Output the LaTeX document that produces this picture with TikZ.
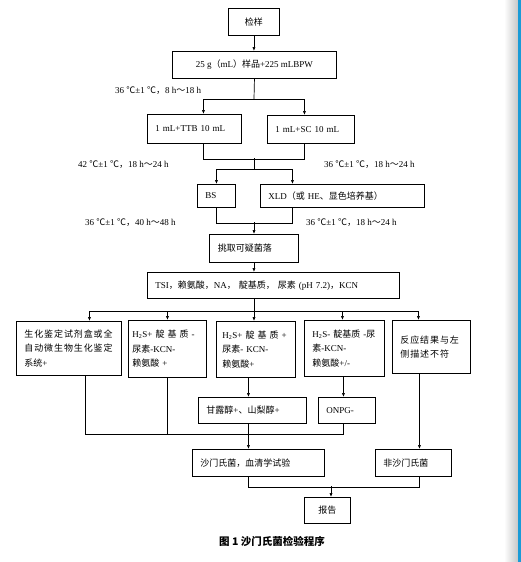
\documentclass[tikz,border=0pt]{standalone}
\usepackage{fontspec}
\setmainfont{Liberation Serif}
\newfontfamily\zhfont{Noto Sans CJK SC}
\newfontfamily\zhwide[LetterSpace=10]{Noto Sans CJK SC}
\usepackage{tikz}
\usetikzlibrary{arrows.meta}
\definecolor{edgeblue}{HTML}{1A9BD7}
\newcommand{\zhs}[1]{{\zhfont #1}}
\newcommand{\zhw}[1]{{\zhwide #1}}
\newcommand{\incub}[3]{#1 \zhs{℃}±1 \zhs{℃，}#2 h\zhs{～}#3 h}

\begin{document}
\begin{tikzpicture}[x=1pt,y=-1pt,>={Latex[length=4pt,width=3.2pt]},
font=\fontsize{9}{14.5}\selectfont,
p/.style={draw,line width=0.9pt,anchor=north west,inner xsep=8pt,inner ysep=0pt},
pl/.style={p,align=left,text width=#1},
lbl/.style={anchor=west,inner sep=0pt},
flow/.style={->,line width=0.7pt},
link/.style={line width=0.7pt}]
\fill[white] (0,0) rectangle (521,562);
\useasboundingbox (0,0) rectangle (521,562);
\shade[left color=white,right color=black!22] (504,0) rectangle (518,562);
\fill[edgeblue] (518,0) rectangle (521,562);
% boxes
\node[p,minimum width=51pt,minimum height=27pt] (sample) at (228,8) {\zhs{检样}};
\node[p,minimum width=164pt,minimum height=27pt] (mix) at (172,51) {25 g\zhs{（}mL\zhs{）样品}+225 mLBPW};
\node[pl=78pt,minimum height=29pt] (ttb) at (147,114) {1 mL+TTB 10 mL};
\node[pl=71pt,minimum height=28pt] (sc) at (267,115) {1 mL+SC 10 mL};
\node[pl=22pt,minimum height=23pt] (bs) at (197,184) {BS};
\node[pl=148pt,minimum height=23pt] (xld) at (260,184) {XLD\zhs{（或} HE\zhs{、显色培养基）}};
\node[pl=72pt,minimum height=28pt,inner xsep=8.5pt] (pick) at (209,234) {\zhs{挑取可疑菌落}};
\node[pl=236pt,minimum height=26pt] (tsi) at (147,272) {TSI\zhs{，赖氨酸，}NA\zhs{，\ 靛基质，\ 尿素} (pH 7.2)\zhs{，}KCN};
\node[pl=89pt,minimum height=54pt] (b1) at (16,321) {\zhw{生化鉴定试剂盒或全}\\\zhw{自动微生物生化鉴定}\\\zhs{系统}+};
\node[pl=70pt,minimum height=57pt,inner xsep=4pt] (b2) at (128,320) {H\textsubscript{2}S+ \zhs{靛 基 质} -\\\zhs{尿素}-KCN-\\\zhs{赖氨酸} +};
\node[pl=67pt,minimum height=56pt,inner xsep=6pt] (b3) at (216,321) {H\textsubscript{2}S+ \zhs{靛 基 质} +\\\zhs{尿素}- KCN-\\\zhs{赖氨酸}+};
\node[pl=64pt,minimum height=56pt] (b4) at (304,320) {H\textsubscript{2}S- \zhs{靛基质} -\zhs{尿}\\\zhs{素}-KCN-\\\zhs{赖氨酸}+/-};
\node[pl=62pt,minimum height=53pt] (b5) at (392,320) {\zhw{反应结果与左}\\\zhw{侧描述不符}};
\node[pl=92pt,minimum height=26pt] (mann) at (198,397) {\zhs{甘露醇}+\zhs{、山梨醇}+};
\node[pl=41pt,minimum height=26pt] (onpg) at (318,397) {ONPG-};
\node[pl=116pt,minimum height=27pt] (salm) at (192,449) {\zhs{沙门氏菌，血清学试验}};
\node[pl=60pt,minimum height=27pt] (nonsalm) at (375,449) {\zhs{非沙门氏菌}};
\node[p,minimum width=46pt,minimum height=26pt] (report) at (304,497) {\zhs{报告}};
\node[font=\zhfont\bfseries\fontsize{10.5}{12}\selectfont] (caption) at (272,541) {图 1 沙门氏菌检验程序};
% incubation labels
\node[lbl] (t1) at (115,91) {\incub{36}{8}{18}};
\node[lbl] (t2) at (78,165) {\incub{42}{18}{24}};
\node[lbl] (t3) at (324,165) {\incub{36}{18}{24}};
\node[lbl] (t4) at (85,223) {\incub{36}{40}{48}};
\node[lbl] (t5) at (306,223) {\incub{36}{18}{24}};
% junctions
\coordinate (j1) at (254,99);
\coordinate (j2) at (254,158);
\coordinate (j3) at (254,169);
\coordinate (j4) at (254,222);
\coordinate (j5) at (254,311);
\coordinate (j7) at (331,486);
% connectors
\draw[flow] (sample.south) -- (sample.south |- mix.north);
\draw[link] (mix.south) -- (j1);
\draw[flow] (j1) -| ([xshift=9pt]ttb.north);
\draw[flow] (j1) -| ([xshift=-6.5pt]sc.north);
\draw[link] ([xshift=9pt]ttb.south) -- ++(0,15) -| ([xshift=-6.5pt]sc.south);
\draw[link] (j2) -- (j3);
\draw[flow] (j3) -| (bs.north);
\draw[flow] (j3) -| ([xshift=-50pt]xld.north);
\draw[link] (bs.south) -- ++(0,15) -| ([xshift=-50pt]xld.south);
\draw[flow] (j4) -- (j4 |- pick.north);
\draw[flow] (pick.south) -- (pick.south |- tsi.north);
\draw[link] (j5 |- tsi.south) -- (j5);
\draw[flow] (j5) -| ([xshift=20.5pt]b1.north);
\draw[flow] (j5) -| (b2.north);
\draw[flow] (j5) -- (j5 |- b3.north);
\draw[flow] (j5) -| ([xshift=-2pt]b4.north);
\draw[flow] (j5) -| ([xshift=-13pt]b5.north);
\draw[link] ([xshift=16.5pt]b1.south) -- ++(0,58) -| ([xshift=-3.5pt]onpg.south);
\draw[link] (b2.south) -- ++(0,56);
\draw[flow] ([xshift=-7.5pt]b3.south) -- ([xshift=-7.5pt]b3.south |- mann.north);
\draw[flow] ([xshift=-1pt]b4.south) -- ([xshift=-1pt]b4.south |- onpg.north);
\draw[flow] ([xshift=-4pt]mann.south) -- ([xshift=-4pt]mann.south |- salm.north);
\draw[flow] ([xshift=-12pt]b5.south) -- ([xshift=-12pt]b5.south |- nonsalm.north);
\draw[link] ([xshift=-10pt]salm.south) -- ++(0,10) -| ([xshift=6pt]nonsalm.south);
\draw[flow] (j7) -- (j7 |- report.north);
\end{tikzpicture}
\end{document}
